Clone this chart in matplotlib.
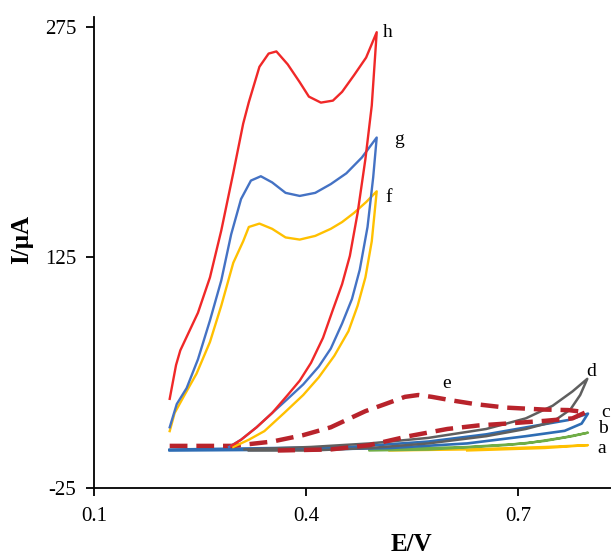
import matplotlib
matplotlib.use("Agg")
import matplotlib.pyplot as plt

plt.rcParams["font.family"] = ["Liberation Serif", "DejaVu Serif"]
plt.rcParams["axes.unicode_minus"] = False

# curve a (yellow, bare electrode)
a_E = [0.518, 0.628, 0.738, 0.799, 0.738, 0.628]
a_I = [-0.6, 0.1, 1.7, 2.9, 1.0, -0.6]

# curve b (green)
b_E = [0.490, 0.628, 0.711, 0.766, 0.799, 0.777, 0.738, 0.683, 0.573, 0.490]
b_I = [0.0, 1.7, 4.0, 8.0, 11.0, 8.7, 5.6, 2.9, 0.0, -0.6]

# curve c (dark blue)
c_E = [0.207, 0.462, 0.573, 0.655, 0.727, 0.771, 0.799,
       0.790, 0.766, 0.711, 0.628, 0.518, 0.407, 0.207]
c_I = [0.0, 1.7, 5.2, 9.9, 15.7, 19.2, 23.4,
       16.9, 12.2, 8.7, 4.0, 1.0, 0.0, -0.6]

# curve d (grey)
d_E = [0.313, 0.407, 0.490, 0.573, 0.655, 0.711, 0.749, 0.777, 0.798,
       0.788, 0.774, 0.749, 0.711, 0.655, 0.573, 0.490, 0.407, 0.319]
d_I = [0.1, 1.7, 4.0, 7.6, 13.4, 20.3, 28.5, 37.8, 46.0,
       35.5, 26.0, 18.0, 13.4, 8.7, 4.0, 1.0, -0.6, -0.6]

# curve e (dark red dashed)
e_E = [0.207, 0.297, 0.352, 0.396, 0.435, 0.462, 0.484, 0.512, 0.540, 0.559,
       0.578, 0.606, 0.639, 0.683, 0.738, 0.771, 0.796,
       0.777, 0.738, 0.683, 0.644, 0.600, 0.545, 0.490, 0.435, 0.360]
e_I = [2.4, 2.4, 5.2, 9.4, 14.5, 20.3, 25.0, 29.6, 34.3, 35.5,
       34.3, 32.0, 29.6, 27.3, 26.0, 25.7, 24.3,
       20.3, 18.7, 16.9, 15.7, 13.4, 8.7, 2.9, 0.1, -0.6]

# curve f (yellow)
f_E = [0.207, 0.214, 0.228, 0.245, 0.264, 0.280, 0.297, 0.311, 0.319, 0.334,
       0.352, 0.371, 0.391, 0.413, 0.435, 0.451, 0.468, 0.485, 0.500,
       0.497, 0.493, 0.484, 0.473, 0.460, 0.440, 0.418, 0.396, 0.369, 0.341,
       0.319, 0.297]
f_I = [12.0, 23.8, 35.5, 49.4, 70.0, 93.6, 121.5, 135.5, 144.8, 147.0,
       143.6, 138.0, 136.6, 139.0, 143.6, 148.0, 154.0, 161.0, 168.0,
       154.0, 135.5, 112.0, 93.6, 77.0, 61.0, 47.0, 35.5, 23.8, 12.0,
       6.4, 1.7]

# curve g (blue)
g_E = [0.207, 0.217, 0.231, 0.247, 0.264, 0.280, 0.294, 0.308, 0.322, 0.336,
       0.352, 0.371, 0.391, 0.413, 0.435, 0.457, 0.479, 0.500,
       0.495, 0.487, 0.476, 0.465, 0.451, 0.435, 0.418, 0.396, 0.374, 0.352,
       0.330, 0.308, 0.291]
g_I = [14.5, 29.6, 40.0, 58.7, 84.0, 110.0, 140.0, 163.0, 175.0, 177.8,
       173.8, 167.0, 165.0, 167.0, 172.7, 179.7, 190.0, 203.0,
       177.0, 144.8, 117.0, 98.0, 82.0, 65.7, 54.0, 42.4, 33.0, 23.8,
       14.5, 6.4, 1.7]

# curve h (red)
h_E = [0.207, 0.216, 0.222, 0.247, 0.264, 0.280, 0.297, 0.311, 0.319, 0.334,
       0.347, 0.358, 0.374, 0.391, 0.404, 0.421, 0.438, 0.451, 0.468, 0.485,
       0.500, 0.493, 0.484, 0.473, 0.462, 0.451, 0.438, 0.424, 0.407, 0.391,
       0.374, 0.352, 0.330, 0.308, 0.294]
h_I = [33.0, 55.0, 64.5, 89.0, 112.0, 142.5, 180.0, 212.0, 226.0, 249.0,
       257.6, 259.0, 250.6, 239.0, 229.6, 225.7, 227.0, 232.7, 243.6, 255.0,
       271.5, 223.8, 189.0, 154.0, 126.0, 107.6, 91.0, 72.7, 56.4, 44.8,
       35.5, 23.8, 14.5, 6.4, 2.4]

labels = ["a", "b", "c", "d", "e", "f", "g", "h"]
label_E = [0.813, 0.813, 0.8185, 0.797, 0.593, 0.513, 0.525, 0.508]
label_I = [0.8, 13.5, 24.4, 50.5, 43.3, 164.0, 202.0, 271.0]

fig = plt.figure(figsize=(6.11, 5.59), dpi=100)
ax = fig.add_axes([0.154, 0.127, 0.846, 0.8426])

ax.plot(a_E, a_I, color="#FFC000", lw=1.7)
ax.plot(b_E, b_I, color="#70AD47", lw=1.7)
ax.plot(c_E, c_I, color="#2E6DB4", lw=1.9)
ax.plot(d_E, d_I, color="#5F5F5F", lw=1.8)
ax.plot(e_E, e_I, color="#B8232B", lw=3.2, dashes=(4, 2))
ax.plot(f_E, f_I, color="#FFC000", lw=1.7)
ax.plot(g_E, g_I, color="#4472C4", lw=1.7)
ax.plot(h_E, h_I, color="#F02828", lw=1.7)

for lab, x, y in zip(labels, label_E, label_I):
    ax.text(x, y, lab, fontsize=14, ha="left", va="center", clip_on=False)

ax.set_xlim(0.1, 0.8316)
ax.set_ylim(-25, 281.4)
ax.set_xticks([0.1, 0.4, 0.7])
ax.set_xticklabels(["0.1", "0.4", "0.7"])
ax.set_yticks([-25, 125, 275])

for s in ["top", "right"]:
    ax.spines[s].set_visible(False)
for s in ["left", "bottom"]:
    ax.spines[s].set_linewidth(1.3)

ax.tick_params(direction="out", length=6, width=1.3, labelsize=15)
ax.tick_params(axis="y", pad=7)
ax.tick_params(axis="x", pad=8)

fig.text(0.674, 0.014, "E/V", fontsize=18, fontweight="bold", ha="center", va="baseline")
fig.text(0.036, 0.571, "I/μA", fontsize=18, fontweight="bold", rotation=90,
         ha="center", va="center")

fig.savefig("out.png", dpi=100)
